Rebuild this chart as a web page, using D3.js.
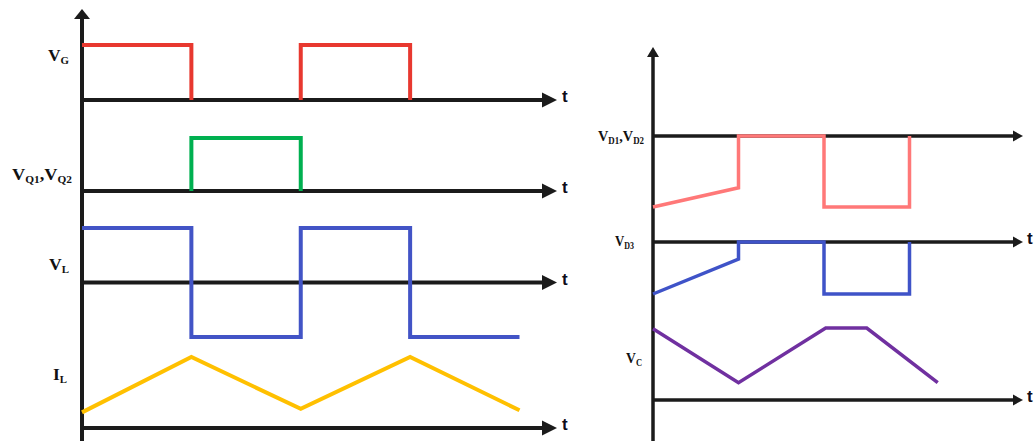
<!DOCTYPE html>
<html>
<head>
<meta charset="utf-8">
<script src="https://cdn.jsdelivr.net/npm/d3@7"></script>
<style>
  html, body { margin: 0; padding: 0; background: #fff; }
  svg { display: block; }
</style>
</head>
<body>
<svg id="chart" width="1034" height="441"></svg>
<script>
// ---- Waveform data (time in switching half-periods, levels in relative units) ----
// null entries break a trace where the signal sits on its own time axis
// Left panel: gate drive, switch voltage, inductor voltage, inductor current
const vgTime  = [0, 1, 1, null, 2, 2, 3, 3];
const vgLevel = [1, 1, 0, null, 0, 1, 1, 0];

const vqTime  = [1, 1, 2, 2];
const vqLevel = [0, 1, 1, 0];

const vlTime  = [0, 1, 1, 2, 2, 3, 3, 4];
const vlLevel = [1, 1, -1, -1, 1, 1, -1, -1];

const ilTime  = [0, 1, 2, 3, 4];
const ilLevel = [0.22, 1, 0.27, 1, 0.25];

// Right panel: diode voltages and capacitor voltage
const vdTime  = [0, 1, 1, 2, 2, 3, 3];
const vdLevel = [-1, -0.73, 0, 0, -1, -1, 0];

const vd3Time  = [0, 1, 1, 2, 2, 3, 3];
const vd3Level = [-1, -0.33, 0, 0, -1, -1, 0];

const vcTime  = [0, 1, 2.02, 2.5, 3.33];
const vcLevel = [0.99, 0.24, 1, 1, 0.24];

// Axis labels
const leftLabels  = [["V", "G"], ["V", "Q1", ",V", "Q2"], ["V", "L"], ["I", "L"]];
const rightLabels = [["V", "D1", ",V", "D2"], ["V", "D3"], ["V", "C"]];
const timeLabel = "t";

// ---- Drawing ----
const svg = d3.select("#chart");
const axisColor = "#1b1b1b";

const xL = d3.scaleLinear().domain([0, 4]).range([82, 519.5]);
const xR = d3.scaleLinear().domain([0, 3]).range([653, 909.5]);

// per-row vertical scales
const yVG = d3.scaleLinear().domain([0, 1]).range([100, 45]);
const yVQ = d3.scaleLinear().domain([0, 1]).range([191, 138]);
const yVL = d3.scaleLinear().domain([-1, 1]).range([337, 228]);
const yIL = d3.scaleLinear().domain([0, 1]).range([428, 357]);
const yVD = d3.scaleLinear().domain([-1, 0]).range([207, 136]);
const yVD3 = d3.scaleLinear().domain([-1, 0]).range([294, 242]);
const yVC = d3.scaleLinear().domain([0, 1]).range([400, 328]);

const axesG = svg.append("g");
const sigG = svg.append("g");
const txtG = svg.append("g");

function hAxis(x0, x1, y, w, tipLen, halfH, tx, showT) {
  axesG.append("line").attr("x1", x0).attr("x2", x1 - tipLen + 1).attr("y1", y).attr("y2", y)
    .attr("stroke", axisColor).attr("stroke-width", w);
  axesG.append("path")
    .attr("d", `M${x1},${y} L${x1 - tipLen},${y - halfH} L${x1 - tipLen},${y + halfH} Z`)
    .attr("fill", axisColor);
  if (showT) {
    txtG.append("text").attr("x", tx).attr("y", y + 2)
      .attr("font-family", "Liberation Sans, Arial, sans-serif").attr("font-weight", "bold")
      .attr("font-size", 17).attr("fill", "#0d0d1a").text(timeLabel);
  }
}
function vAxis(x, yTop, yBot, w, tipLen, halfW) {
  axesG.append("line").attr("x1", x).attr("x2", x).attr("y1", yTop + tipLen - 1).attr("y2", yBot)
    .attr("stroke", axisColor).attr("stroke-width", w);
  axesG.append("path")
    .attr("d", `M${x},${yTop} L${x - halfW},${yTop + tipLen} L${x + halfW},${yTop + tipLen} Z`)
    .attr("fill", axisColor);
}

// left panel axes
vAxis(82, 9, 441, 4, 10, 8);
[yVG(0), yVQ(0), yVL(0), yIL(0)].forEach(y => hAxis(82, 557, y, 4, 15, 7.5, 562, true));
// right panel axes
vAxis(653, 47, 441, 3.5, 10, 6);
[yVD(0), yVD3(0), yVC(0)].forEach((y, i) => hAxis(653, 1023, y, 3.5, 10, 5.5, 1027, i > 0));

function trace(times, levels, x, y, color, w) {
  const pts = times.map((t, i) => (t === null ? null : [x(t), y(levels[i])]));
  sigG.append("path")
    .attr("d", d3.line().defined(p => p !== null)(pts))
    .attr("fill", "none").attr("stroke", color).attr("stroke-width", w)
    .attr("stroke-linejoin", "miter").attr("stroke-linecap", "butt");
}

trace(vgTime, vgLevel, xL, yVG, "#e8382f", 4);
trace(vqTime, vqLevel, xL, yVQ, "#00b050", 4);
trace(vlTime, vlLevel, xL, yVL, "#4254c6", 4);
trace(ilTime, ilLevel, xL, yIL, "#ffc000", 4);

trace(vdTime, vdLevel, xR, yVD, "#ff7878", 3.5);
trace(vd3Time, vd3Level, xR, yVD3, "#3f53c8", 3.5);
trace(vcTime, vcLevel, xR, yVC, "#7030a0", 3.5);

// signal names with subscripts
function label(parts, x, y, width, size) {
  const t = txtG.append("text").attr("x", x).attr("y", y)
    .attr("font-family", "Liberation Serif, 'Times New Roman', serif")
    .attr("font-weight", "bold").attr("fill", "#111")
    .attr("font-size", size)
    .attr("textLength", width).attr("lengthAdjust", "spacingAndGlyphs");
  parts.forEach((p, i) => {
    const sub = i % 2 === 1;
    t.append("tspan")
      .attr("font-size", sub ? size * 0.62 : size)
      .attr("dy", i === 0 ? 0 : (sub ? 3 : -3))
      .text(p);
  });
}

label(leftLabels[0], 48, 61, 21, 17);
label(leftLabels[1], 12, 180, 60, 17);
label(leftLabels[2], 49, 270, 20, 17);
label(leftLabels[3], 53, 380, 14, 17);

label(rightLabels[0], 598, 141, 46, 15);
label(rightLabels[1], 615, 246, 19, 15);
label(rightLabels[2], 626, 363, 16, 15);
</script>
</body>
</html>
